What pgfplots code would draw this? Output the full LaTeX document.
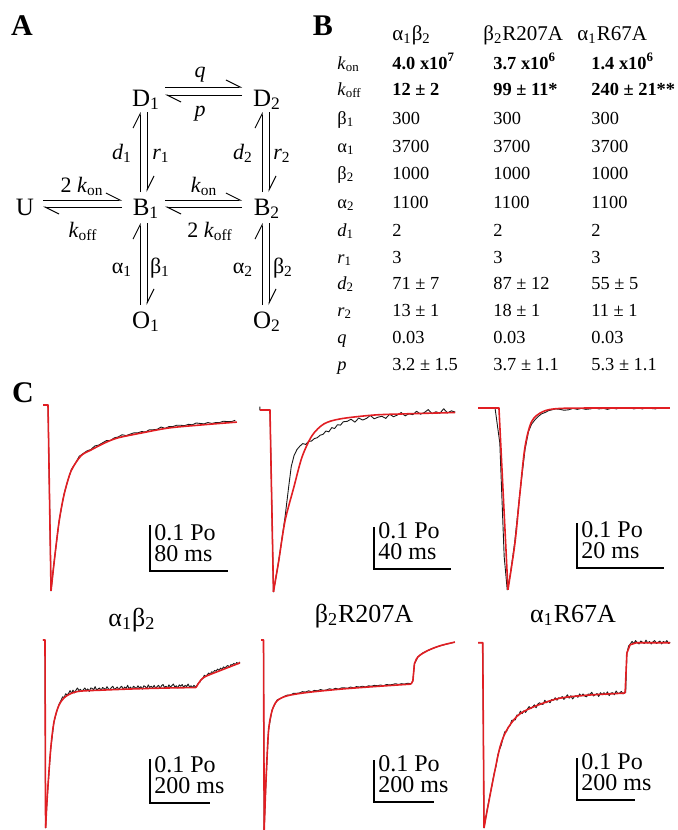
\documentclass[border=0pt]{standalone}
\usepackage{fontspec}
\setmainfont{Liberation Serif}
\usepackage{pgfplots}
\pgfplotsset{compat=1.18}
\usetikzlibrary{arrows.meta}

\definecolor{fitred}{RGB}{225,30,35}
\definecolor{rawgray}{RGB}{25,25,25}

\pgfplotsset{
  tracebox/.style={hide axis, clip=false, anchor=south west},
}
\tikzset{
  rawline/.style={rawgray, line width=0.45pt, line join=round},
  fitline/.style={fitred, line width=0.8pt, line join=round},
  harp/.style={line width=0.5pt, -{Straight Barb[harpoon,length=7pt,width=7pt]}},
  st/.style={anchor=base, inner sep=0, font=\fontsize{12.5pt}{14pt}\selectfont},
  rt/.style={anchor=base, inner sep=0, font=\fontsize{11pt}{13pt}\selectfont},
  tab/.style={anchor=base west, inner sep=0, font=\fontsize{9.2pt}{11pt}\selectfont},
  hdr/.style={anchor=base west, inner sep=0, font=\fontsize{10.5pt}{12pt}\selectfont},
  ttl/.style={anchor=base, inner sep=0, font=\fontsize{13pt}{15pt}\selectfont},
  sb/.style={anchor=base west, inner sep=0, font=\fontsize{12pt}{14pt}\selectfont},
  panel/.style={anchor=base, inner sep=0, font=\fontsize{15pt}{17pt}\selectfont\bfseries},
}
\newcommand\kon{\textit{k}\textsubscript{on}}
\newcommand\koff{\textit{k}\textsubscript{off}}
\newcommand\trow[5]{%
  \node[tab] at (337,#1) {#2};
  \node[tab] at (392,#1) {#3};
  \node[tab] at (493,#1) {#4};
  \node[tab] at (591,#1) {#5};}
% scale bar: x, y of corner, vertical and horizontal length (px), time label
\newcommand\scalebar[5]{%
  \draw[line width=1.1pt] (#1,#2-#3) -- (#1,#2) -- (#1+#4,#2);
  \node[sb] at (#1+4,#2-31) {0.1 Po};
  \node[sb] at (#1+4,#2-10) {#5};}

\begin{document}
\begin{tikzpicture}

\begin{scope}[x=0.5pt, y=-0.5pt]
% ---------- panel A: kinetic scheme
\node[panel] at (22,35) {A};
\node[st] at (25,215) {U};
\node[st] at (146,106) {D\textsubscript{1}};
\node[st] at (267,106) {D\textsubscript{2}};
\node[st] at (146,215) {B\textsubscript{1}};
\node[st] at (267,215) {B\textsubscript{2}};
\node[st] at (146,328) {O\textsubscript{1}};
\node[st] at (267,328) {O\textsubscript{2}};

\draw[harp] (165,87) -- (242,87);
\draw[harp] (242,95) -- (165,95);
\draw[harp] (43,200) -- (122,200);
\draw[harp] (122,207) -- (43,207);
\draw[harp] (165,200) -- (242,200);
\draw[harp] (242,207) -- (165,207);
\draw[harp] (140,192) -- (140,112);
\draw[harp] (147,112) -- (147,192);
\draw[harp] (262,192) -- (262,112);
\draw[harp] (269,112) -- (269,192);
\draw[harp] (140,305) -- (140,223);
\draw[harp] (147,223) -- (147,305);
\draw[harp] (262,305) -- (262,223);
\draw[harp] (269,223) -- (269,305);

\node[rt] at (200,77) {\textit{q}};
\node[rt] at (200,116) {\textit{p}};
\node[rt] at (122,159) {\textit{d}\textsubscript{1}};
\node[rt] at (161,159) {\textit{r}\textsubscript{1}};
\node[rt] at (243,159) {\textit{d}\textsubscript{2}};
\node[rt] at (282,159) {\textit{r}\textsubscript{2}};
\node[rt] at (82,192) {2 \kon};
\node[rt] at (83,237) {\koff};
\node[rt] at (204,192) {\kon};
\node[rt] at (210,237) {2 \koff};
\node[rt] at (122,273) {α\textsubscript{1}};
\node[rt] at (160,273) {β\textsubscript{1}};
\node[rt] at (243,273) {α\textsubscript{2}};
\node[rt] at (283,273) {β\textsubscript{2}};

% ---------- panel B: table of rate constants
\node[panel] at (323,35) {B};
\node[hdr] at (392,40) {α\textsubscript{1}β\textsubscript{2}};
\node[hdr] at (483,40) {β\textsubscript{2}R207A};
\node[hdr] at (577,40) {α\textsubscript{1}R67A};
\trow{69}{\kon}{\textbf{4.0 x10\textsuperscript{7}}}{\textbf{3.7 x10\textsuperscript{6}}}{\textbf{1.4 x10\textsuperscript{6}}}
\trow{95}{\koff}{\textbf{12 ± 2}}{\textbf{99 ± 11*}}{\textbf{240 ± 21**}}
\trow{124}{β\textsubscript{1}}{300}{300}{300}
\trow{152}{α\textsubscript{1}}{3700}{3700}{3700}
\trow{179}{β\textsubscript{2}}{1000}{1000}{1000}
\trow{208}{α\textsubscript{2}}{1100}{1100}{1100}
\trow{236}{\textit{d}\textsubscript{1}}{2}{2}{2}
\trow{263}{\textit{r}\textsubscript{1}}{3}{3}{3}
\trow{289}{\textit{d}\textsubscript{2}}{71 ± 7}{87 ± 12}{55 ± 5}
\trow{316}{\textit{r}\textsubscript{2}}{13 ± 1}{18 ± 1}{11 ± 1}
\trow{343}{\textit{q}}{0.03}{0.03}{0.03}
\trow{370}{\textit{p}}{3.2 ± 1.5}{3.7 ± 1.1}{5.3 ± 1.1}

% ---------- panel C: labels and scale bars
\node[panel] at (23,402) {C};
\node[ttl] at (132,626) {α\textsubscript{1}β\textsubscript{2}};
\node[ttl] at (364,622) {β\textsubscript{2}R207A};
\node[ttl] at (573,622) {α\textsubscript{1}R67A};
\scalebar{150}{571}{46}{78}{80 ms}
\scalebar{374}{569}{42}{77}{40 ms}
\scalebar{577}{568}{45}{87}{20 ms}
\scalebar{150}{803}{44}{60}{200 ms}
\scalebar{374}{802}{42}{60}{200 ms}
\scalebar{577}{800}{42}{58}{200 ms}
\end{scope}

% ---------- traces: time in ms, response in Po
% alpha1beta2, 80 ms bar
\begin{axis}[tracebox, at={(21.08pt,-301.5pt)}, x=0.4875pt, y=225pt,
  xmin=-6, xmax=200, ymin=-0.44, ymax=0.02]
\addplot[rawline] coordinates {(-5.1,0) (0,0) (3.1,-0.413) (6.2,-0.350) (11.3,-0.259)
 (16.4,-0.198) (20,-0.170) (24,-0.143) (28,-0.130) (32,-0.114) (36,-0.108) (40,-0.102)
 (44,-0.099) (48,-0.091) (52,-0.089) (56,-0.084) (60,-0.079) (64,-0.079) (68,-0.073)
 (72,-0.071) (76,-0.066) (80,-0.068) (84,-0.065) (88,-0.062) (92,-0.062) (96,-0.059)
 (100,-0.060) (104,-0.055) (108,-0.055) (112,-0.054) (116,-0.049) (120,-0.052) (124,-0.048)
 (128,-0.048) (132,-0.045) (136,-0.045) (140,-0.046) (144,-0.043) (148,-0.044) (152,-0.040)
 (156,-0.041) (160,-0.042) (164,-0.039) (168,-0.041) (172,-0.039) (176,-0.039) (180,-0.036)
 (184,-0.037) (188,-0.037) (192,-0.034)};
\addplot[fitline] coordinates {(-5.1,0) (0,0) (3.1,-0.413)};
\addplot[fitline, smooth] coordinates {(3.1,-0.413) (6.2,-0.351) (11.3,-0.260) (16.4,-0.200)
 (23.6,-0.147) (33.8,-0.113) (44.1,-0.100) (58.5,-0.084) (71.8,-0.073) (96.4,-0.062)
 (124.1,-0.051) (159,-0.044) (193.8,-0.038)};
\end{axis}

% beta2R207A, 40 ms bar
\begin{axis}[tracebox, at={(129.2pt,-301.6pt)}, x=0.965pt, y=210pt,
  xmin=-6, xmax=100, ymin=-0.46, ymax=0.02]
\addplot[rawline] coordinates {(-5.2,0.008) (-5.2,0) (0,0) (1.8,-0.433) (4.5,-0.36)
 (7.8,-0.255) (9.5,-0.19) (11,-0.135) (12.5,-0.108) (14,-0.094) (15.5,-0.086) (17,-0.080)
 (18.5,-0.082) (20,-0.075) (21.5,-0.074) (23,-0.068) (24.5,-0.066) (26,-0.060) (27.5,-0.058)
 (29,-0.050) (30.5,-0.052) (32,-0.042) (33.5,-0.044) (35,-0.035) (36.5,-0.036) (38,-0.028)
 (40,-0.027) (42,-0.022) (44,-0.029) (46,-0.019) (48,-0.024) (50,-0.020) (52,-0.013)
 (54,-0.021) (56,-0.017) (58,-0.015) (60,-0.020) (62,-0.010) (64,-0.016) (66,-0.012)
 (68,-0.006) (70,-0.014) (72,-0.009) (74,-0.011) (76,-0.003) (78,-0.010) (80,-0.006)
 (82,0.001) (84,-0.009) (86,-0.004) (88,-0.008) (90,0.003) (92,-0.007) (94,-0.002)
 (96,-0.005)};
\addplot[fitline] coordinates {(-5.2,0) (0,0) (1.8,-0.433)};
\addplot[fitline, smooth] coordinates {(1.8,-0.433) (4.5,-0.360) (7.8,-0.264) (12.3,-0.185)
 (16.6,-0.112) (21.8,-0.061) (28.0,-0.033) (36.6,-0.021) (53.9,-0.012) (71.5,-0.009)
 (95.9,-0.006)};
\end{axis}

% alpha1R67A, 20 ms bar
\begin{axis}[tracebox, at={(238.6pt,-298.5pt)}, x=2.175pt, y=225pt,
  xmin=-5, xmax=40, ymin=-0.42, ymax=0.02]
\addplot[rawline] coordinates {(-4.8,0) (-0.9,0) (0.2,-0.078) (1.2,-0.33) (1.9,-0.404)
 (2.6,-0.37) (3.6,-0.30) (4.8,-0.19) (6.0,-0.092) (6.8,-0.052) (7.5,-0.036) (8.3,-0.026)
 (9.0,-0.019) (9.8,-0.013) (10.6,-0.010) (11.4,-0.006) (12.2,-0.004) (13,-0.002)
 (14,-0.003) (15,-0.005) (16,-0.004) (17,-0.001) (18,-0.003) (19,-0.001) (20,-0.003)
 (21,-0.002) (22,0.000) (23,-0.002) (24,-0.001) (25,-0.003) (26,0.000) (27,-0.002)
 (28,0.001) (29,-0.001) (30,0.001) (31,-0.002) (32,0.000) (33,-0.002) (34,0.001)
 (35,-0.001) (36,-0.002) (37,0.001) (38,-0.001) (39.3,0.000)};
\addplot[fitline] coordinates {(-4.8,0) (0,0) (2.07,-0.404)};
\addplot[fitline, smooth] coordinates {(2.07,-0.404) (3.68,-0.300) (4.83,-0.189)
 (5.98,-0.087) (7.52,-0.030) (10.1,-0.008) (14.0,-0.001) (25,0) (39.3,0)};
\end{axis}

% alpha1beta2, 200 ms bar
\begin{axis}[tracebox, at={(21.32pt,-416.8pt)}, x=0.1475pt, y=220pt,
  xmin=-8, xmax=670, ymin=-0.44, ymax=0.02]
\addplot[rawline] coordinates {(-6.8,0) (0,0) (2,-0.427) (7.8,-0.355) (19.3,-0.248)
 (30.5,-0.186) (40,-0.162) (47.5,-0.146) (55,-0.136)
 (60,-0.129) (65,-0.131) (70,-0.122) (75,-0.125) (80,-0.121) (85,-0.115) (90,-0.121)
 (95,-0.114) (100,-0.120) (105,-0.114) (110,-0.109) (115,-0.115) (120,-0.112) (125,-0.117)
 (130,-0.113) (135,-0.109) (140,-0.115) (145,-0.111) (150,-0.117) (155,-0.109) (160,-0.110)
 (165,-0.113) (170,-0.106) (175,-0.114) (180,-0.111) (185,-0.109) (190,-0.115) (195,-0.108)
 (200,-0.110) (205,-0.113) (210,-0.106) (215,-0.111) (220,-0.113) (225,-0.108) (230,-0.105)
 (235,-0.112) (240,-0.110) (245,-0.107) (250,-0.113) (255,-0.108) (260,-0.105) (265,-0.112)
 (270,-0.107) (275,-0.110) (280,-0.103) (285,-0.111) (290,-0.107) (295,-0.112) (300,-0.105)
 (305,-0.108) (310,-0.110) (315,-0.104) (320,-0.109) (325,-0.106) (330,-0.112) (335,-0.104)
 (340,-0.106) (345,-0.110) (350,-0.102) (355,-0.108) (360,-0.105) (365,-0.109) (370,-0.103)
 (375,-0.110) (380,-0.106) (385,-0.103) (390,-0.110) (395,-0.104) (400,-0.101) (405,-0.108)
 (410,-0.105) (415,-0.109) (420,-0.102) (425,-0.107) (430,-0.104) (435,-0.100) (440,-0.107)
 (445,-0.104) (450,-0.109) (455,-0.102) (460,-0.105) (465,-0.101) (470,-0.108) (475,-0.103)
 (480,-0.106) (485,-0.100) (490,-0.107) (495,-0.104) (500,-0.108) (505,-0.103) (510,-0.107)
 (515,-0.103) (520,-0.098) (525,-0.096) (530,-0.089) (535,-0.088) (540,-0.080) (545,-0.083)
 (550,-0.079) (555,-0.075) (560,-0.078) (565,-0.072) (570,-0.074) (575,-0.069) (580,-0.071)
 (585,-0.066) (590,-0.069) (595,-0.064) (600,-0.067) (605,-0.061) (610,-0.064) (615,-0.060)
 (620,-0.058) (625,-0.062) (630,-0.056) (635,-0.057) (640,-0.053) (645,-0.056) (650,-0.051)
 (655,-0.054) (661,-0.050)};
\addplot[fitline] coordinates {(-6.8,0) (0,0) (2,-0.427)};
\addplot[fitline, smooth] coordinates {(2,-0.427) (7.8,-0.355) (19.3,-0.248) (30.5,-0.186)
 (47.5,-0.148) (71,-0.128) (111,-0.117) (190,-0.114) (305,-0.111) (420,-0.109) (512,-0.108)};
\addplot[fitline, smooth] coordinates {(512,-0.108) (536,-0.086) (592,-0.070) (661,-0.052)};
\end{axis}

% beta2R207A, 200 ms bar
\begin{axis}[tracebox, at={(130.25pt,-416.6pt)}, x=0.15pt, y=210pt,
  xmin=-10, xmax=640, ymin=-0.46, ymax=0.02]
\addplot[rawline] coordinates {(-8.3,0) (0,0) (2.3,-0.452) (8.3,-0.336) (16.7,-0.215)
 (28.3,-0.167) (45,-0.143) (60,-0.138) (70,-0.134) (80,-0.131) (90,-0.131) (100,-0.127)
 (110,-0.127) (120,-0.126) (130,-0.123) (140,-0.124) (150,-0.121) (160,-0.123) (170,-0.120)
 (180,-0.121) (190,-0.118) (200,-0.120) (210,-0.119) (220,-0.116) (230,-0.118) (240,-0.115)
 (250,-0.117) (260,-0.114) (270,-0.114) (280,-0.115) (290,-0.112) (300,-0.114) (310,-0.111)
 (320,-0.112) (330,-0.110) (340,-0.112) (350,-0.109) (360,-0.110) (370,-0.108) (380,-0.109)
 (390,-0.107) (400,-0.109) (410,-0.106) (420,-0.107) (430,-0.106) (440,-0.104) (450,-0.106)
 (460,-0.104) (470,-0.105) (480,-0.103) (492,-0.104) (498,-0.097) (503,-0.057) (515,-0.040)
 (530,-0.031) (548,-0.025) (570,-0.018) (592,-0.013) (615,-0.009) (638,-0.005)};
\addplot[fitline] coordinates {(-8.3,0) (0,0) (2.3,-0.452)};
\addplot[fitline, smooth] coordinates {(2.3,-0.452) (8.3,-0.336) (16.7,-0.217) (28.3,-0.169)
 (45,-0.145) (78.3,-0.133) (145,-0.125) (257,-0.117) (368,-0.111) (492,-0.105)};
\addplot[fitline] coordinates {(492,-0.105) (498,-0.097) (503,-0.057)};
\addplot[fitline, smooth] coordinates {(503,-0.057) (515,-0.040) (548,-0.025) (592,-0.013)
 (638,-0.005)};
\end{axis}

% alpha1R67A, 200 ms bar
\begin{axis}[tracebox, at={(238.75pt,-415.85pt)}, x=0.145pt, y=210pt,
  xmin=-18, xmax=650, ymin=-0.45, ymax=0.02]
\addplot[rawline] coordinates {(-16.2,0) (0,0) (4.5,-0.441) (13.8,-0.403) (25,-0.363)
 (35.5,-0.325) (40,-0.309) (46,-0.294) (52,-0.267) (58,-0.254) (64,-0.244) (70,-0.227)
 (76,-0.212) (82,-0.212) (88,-0.201) (94,-0.197) (100,-0.185) (106,-0.184) (112,-0.184)
 (118,-0.172) (124,-0.173) (130,-0.163) (136,-0.169) (142,-0.162) (148,-0.166) (154,-0.158)
 (160,-0.152) (166,-0.157) (172,-0.153) (178,-0.148) (184,-0.155) (190,-0.146) (196,-0.143)
 (202,-0.146) (208,-0.147) (214,-0.137) (220,-0.143) (226,-0.139) (232,-0.143) (238,-0.135)
 (244,-0.137) (250,-0.131) (256,-0.137) (262,-0.131) (268,-0.133) (274,-0.128) (280,-0.135)
 (286,-0.130) (292,-0.124) (298,-0.132) (304,-0.126) (310,-0.134) (316,-0.128) (322,-0.126)
 (328,-0.130) (334,-0.122) (340,-0.127) (346,-0.122) (352,-0.127) (358,-0.129) (364,-0.122)
 (370,-0.123) (376,-0.118) (382,-0.127) (388,-0.124) (394,-0.121) (400,-0.128) (406,-0.119)
 (412,-0.124) (418,-0.119) (424,-0.124) (430,-0.117) (436,-0.126) (442,-0.120) (448,-0.119)
 (454,-0.124) (460,-0.115) (466,-0.121) (472,-0.120) (478,-0.116) (484,-0.122) (490,-0.117)
 (493,-0.119) (497,-0.025) (503,-0.008) (509,-0.003) (515,0.003) (521,-0.002) (527,0.005)
 (533,0.000) (539,-0.003) (545,0.004) (551,0.001) (557,-0.002) (563,0.006) (569,-0.001)
 (575,0.003) (581,-0.003) (587,0.002) (593,0.005) (599,-0.002) (605,0.001) (611,0.004)
 (617,-0.003) (623,0.003) (629,0.000) (635,0.005) (641,-0.002) (646,0.001)};
\addplot[fitline] coordinates {(-16.2,0) (0,0) (4.5,-0.441)};
\addplot[fitline, smooth] coordinates {(4.5,-0.441) (13.8,-0.405) (35.5,-0.327) (59.7,-0.248)
 (82.8,-0.208) (117,-0.176) (152,-0.160) (208,-0.144) (267,-0.132) (359,-0.125) (491,-0.120)};
\addplot[fitline] coordinates {(491,-0.120) (497,-0.025) (508,-0.005) (530,0) (646,0)};
\end{axis}

\pgfresetboundingbox
\path[use as bounding box] (0,0) rectangle (338.5pt,-415pt);
\end{tikzpicture}
\end{document}
